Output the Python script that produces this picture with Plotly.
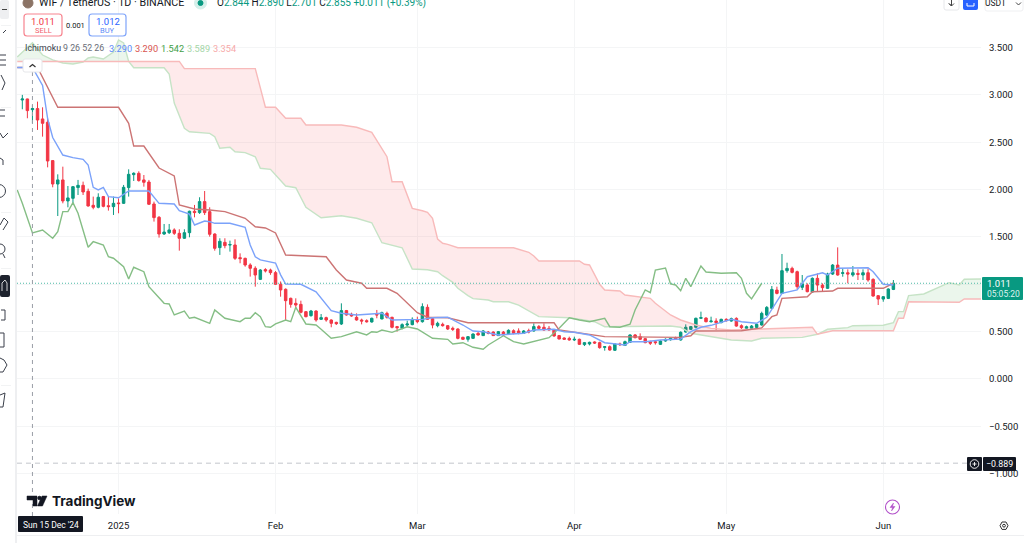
"""WIF / TetherUS daily candles with Ichimoku cloud, TradingView look."""

import pandas as pd
import plotly.graph_objects as go

W, H = 1024, 543
FONT = 'Roboto, Arial, sans-serif'

# Candles, one per day from START_DATE
START_DATE = '2024-12-13'
OPEN = [
    2.946, 2.957, 2.844, 2.855, 2.746, 2.711, 2.306, 2.059, 2.102, 1.880,
    1.908, 2.021, 2.045, 1.982, 1.834, 1.813, 1.926, 1.830, 1.820, 1.859,
    1.855, 2.021, 2.158, 2.172, 2.102, 2.080, 1.848, 1.707, 1.531, 1.545,
    1.574, 1.538, 1.486, 1.545, 1.771, 1.757, 1.873, 1.767, 1.531, 1.387,
    1.443, 1.415, 1.415, 1.281, 1.274, 1.204, 1.169, 1.052, 1.155, 1.151,
    1.123, 1.000, .947, .852, .799, .788, .711, .669, .718, .630,
    .648, .623, .598, .581, .722, .683, .651, .623, .616, .602,
    .683, .634, .693, .651, .553, .535, .570, .574, .623, .605,
    .757, .637, .563, .577, .563, .535, .528, .440, .419, .429,
    .482, .458, .496, .496, .458, .496, .475, .510, .507, .482,
    .510, .507, .553, .546, .535, .517, .458, .433, .429, .412,
    .419, .363, .370, .391, .384, .334, .341, .303, .370, .355,
    .387, .465, .447, .426, .394, .394, .366, .401, .415, .436,
    .412, .496, .524, .546, .641, .644, .605, .612, .595, .630,
    .612, .640, .563, .535, .535, .545, .570, .675, .746, .939,
    .904, 1.144, 1.168, 1.133, .968, .992, .918, 1.063, .992, .957,
    1.108, 1.203, 1.115, 1.122, 1.098, 1.115, 1.098, 1.122, 1.052, .880,
    .844, .851, .946,
]
HIGH = [
    3.000, 2.960, 2.890, 2.929, 2.869, 2.753, 2.310, 2.161, 2.242, 2.038,
    2.038, 2.102, 2.084, 2.010, 1.926, 1.961, 1.933, 1.926, 1.926, 1.908,
    2.049, 2.214, 2.183, 2.193, 2.154, 2.102, 1.873, 1.721, 1.637, 1.637,
    1.591, 1.581, 1.581, 1.778, 1.838, 1.919, 1.985, 1.813, 1.538, 1.486,
    1.486, 1.461, 1.475, 1.327, 1.281, 1.222, 1.190, 1.160, 1.170, 1.165,
    1.140, 1.030, .957, .859, .852, .827, .718, .729, .725, .686,
    .658, .630, .605, .799, .729, .700, .693, .637, .630, .648,
    .729, .711, .711, .658, .560, .588, .616, .651, .658, .799,
    .788, .644, .605, .595, .570, .553, .535, .447, .454, .482,
    .496, .517, .507, .503, .507, .507, .524, .524, .535, .517,
    .531, .588, .570, .588, .560, .524, .465, .440, .447, .447,
    .426, .391, .394, .398, .394, .348, .355, .377, .384, .405,
    .472, .475, .482, .433, .405, .405, .412, .429, .436, .447,
    .503, .577, .560, .648, .711, .651, .658, .641, .637, .641,
    .648, .651, .577, .563, .570, .587, .711, .770, .982, .975,
    1.320, 1.228, 1.186, 1.144, 1.098, 1.010, 1.073, 1.115, 1.010, 1.122,
    1.214, 1.390, 1.168, 1.158, 1.193, 1.158, 1.158, 1.168, 1.063, .887,
    .876, .957, 1.045,
]
LOW = [
    2.848, 2.753, 2.701, 2.630, 2.559, 2.235, 2.024, 1.721, 1.855, 1.813,
    1.838, 1.943, 1.943, 1.820, 1.792, 1.802, 1.813, 1.778, 1.732, 1.750,
    1.848, 1.926, 2.091, 2.084, 2.031, 1.838, 1.662, 1.493, 1.521, 1.531,
    1.521, 1.355, 1.479, 1.496, 1.707, 1.743, 1.732, 1.503, 1.355, 1.310,
    1.380, 1.345, 1.257, 1.222, 1.186, 1.081, .975, 1.045, 1.125, 1.100,
    .995, .869, .623, .753, .746, .693, .651, .658, .605, .623,
    .605, .546, .570, .570, .669, .658, .616, .577, .595, .595,
    .641, .630, .637, .535, .500, .524, .553, .567, .588, .595,
    .623, .535, .546, .553, .517, .507, .419, .412, .394, .422,
    .458, .454, .472, .454, .454, .454, .465, .472, .472, .475,
    .482, .500, .524, .510, .510, .447, .419, .412, .405, .401,
    .359, .348, .355, .370, .320, .299, .299, .296, .348, .348,
    .380, .429, .412, .377, .359, .363, .359, .394, .405, .412,
    .405, .489, .517, .535, .634, .598, .595, .517, .588, .605,
    .605, .552, .524, .524, .524, .531, .563, .665, .739, .894,
    .897, 1.122, 1.115, .946, .939, .915, .911, .922, .922, .950,
    1.098, 1.091, 1.080, 1.010, 1.080, 1.045, 1.045, 1.027, .869, .781,
    .816, .844, .939,
]
CLOSE = [
    2.957, 2.834, 2.855, 2.735, 2.700, 2.302, 2.059, 2.102, 1.880, 1.912,
    2.031, 2.045, 1.975, 1.827, 1.813, 1.919, 1.823, 1.820, 1.855, 1.852,
    2.024, 2.161, 2.172, 2.095, 2.077, 1.845, 1.704, 1.531, 1.552, 1.574,
    1.538, 1.486, 1.545, 1.771, 1.757, 1.873, 1.757, 1.528, 1.380, 1.454,
    1.408, 1.419, 1.274, 1.271, 1.204, 1.169, 1.098, 1.151, 1.141, 1.123,
    1.000, .940, .827, .788, .781, .704, .658, .718, .623, .648,
    .623, .588, .584, .722, .676, .665, .623, .612, .605, .641,
    .676, .700, .651, .546, .542, .574, .581, .630, .605, .764,
    .630, .570, .588, .563, .528, .524, .429, .419, .447, .475,
    .465, .507, .482, .458, .500, .465, .514, .482, .482, .507,
    .496, .553, .535, .517, .517, .454, .422, .419, .412, .419,
    .366, .384, .387, .380, .331, .341, .306, .370, .363, .394,
    .465, .436, .419, .384, .377, .384, .401, .419, .429, .419,
    .493, .546, .553, .641, .648, .605, .612, .595, .630, .616,
    .637, .559, .542, .552, .559, .577, .693, .756, .946, .904,
    1.144, 1.168, 1.126, .975, 1.003, .922, 1.063, .992, .964, 1.108,
    1.203, 1.098, 1.122, 1.108, 1.122, 1.105, 1.122, 1.045, .876, .844,
    .869, .950, 1.011,
]

# Ichimoku lines: day offset from START_DATE and price at each bend
TENKAN_DAY = [
    -1, 2, 4, 5, 6, 8, 10, 12, 13, 14, 15, 16, 17, 19, 21, 25, 27, 30, 31, 33, 34, 36, 37, 38, 41, 44,
    45, 46, 47, 50, 51, 52, 55, 58, 61, 63, 66, 69, 71, 73, 77, 79, 81, 84, 87, 89, 91, 94, 99, 101,
    105, 107, 109, 112, 115, 119, 120, 123, 126, 130, 132, 134, 136, 139, 140, 142, 145, 147, 150,
    153, 155, 158, 159, 161, 167, 168, 170, 172,
]
TENKAN = [
    3.29, 3.29, 3.10, 2.75, 2.55, 2.365, 2.337, 2.320, 2.260, 2.024, 1.996, 2.024, 1.925, 1.914, 1.985,
    1.985, 1.855, 1.848, 1.777, 1.742, 1.626, 1.668, 1.661, 1.644, 1.644, 1.602,
    1.415, 1.291, 1.257, 1.225, 1.10, 1.003, 1.000, .92, .721, .694, .676, .683, .694, .623, .623, .630,
    .647, .652, .570, .507, .499, .465, .483, .517,
    .525, .499, .493, .465, .383, .359, .394, .394, .412, .422, .50, .546, .567, .616, .630, .605, .588,
    .652, .905, .940, 1.080, 1.122, 1.098, 1.169, 1.175, 1.133, 1.000, .993,
]
KIJUN_DAY = [
    -1, 3, 7, 19, 21, 22, 24, 27, 30, 31, 34, 37, 40, 44, 46, 48, 50, 52, 60, 62, 64, 67, 68, 72, 74,
    78, 80, 84, 88, 105, 106, 109, 113, 115, 130, 132, 133, 140, 142, 146, 148, 149, 150, 155, 156,
    160, 161, 170, 172,
]
KIJUN = [
    3.29, 3.29, 2.869, 2.869, 2.700, 2.460, 2.460, 2.228, 2.144, 1.837, 1.795, 1.785, 1.767, 1.697, 1.608,
    1.595, 1.542, 1.309, 1.291, 1.151, 1.045, 1.011, .958, .958, .905,
    .700, .652, .647, .594, .594, .517, .493, .465, .447, .440, .457, .507, .507, .510, .539, .658, .676,
    .852, .869, .922, .929, .958, .958, 1.011,
]
CHIKOU_DAY = [
    -1, 0, 2, 4, 6, 7, 8, 9, 10, 11, 13, 14, 16, 17, 18, 20, 21, 22, 24, 25, 28, 29, 30, 32, 33, 34, 37,
    38, 40, 43, 44, 45, 46, 47, 48, 49, 50, 52, 53, 54, 56, 58, 59, 61, 63, 66, 68, 69, 70, 71, 73, 76,
    78, 81, 84, 85, 87, 89, 91, 92, 95, 97, 99, 102, 104, 106, 108, 110, 112, 115, 116, 118, 120, 121,
    123, 124, 125, 127, 128, 129, 130, 131, 132, 134, 135, 138, 141, 142, 143, 144, 146,
]
CHIKOU = [
    1.996, 1.855, 1.542, 1.573, 1.486, 1.555, 1.767, 1.767, 1.862, 1.750, 1.391, 1.450, 1.415, 1.291,
    1.275, 1.186, 1.056, 1.180, 1.133, .975, .799, .792, .676, .718, .641, .652, .588,
    .729, .641, .605, .641, .641, .700, .658, .552, .546, .581, .623, .605, .757, .581, .570, .525, .430,
    .447, .499, .465, .499, .493, .517, .493, .552,
    .528, .430, .419, .370, .383, .335, .314, .359, .457, .394, .370, .412, .436, .535, .647, .623, .605,
    .641, .552, .546, .578, .729,
    .940, .911, 1.151, 1.172, 1.003, .993, .932, 1.063, .975, 1.193, 1.130, 1.116, 1.122, 1.063, .905,
    .845, 1.011,
]
SPAN_A_DAY = [
    -1, 1, 2, 4, 6, 8, 10, 12, 13, 14, 16, 18, 19, 20, 21, 22, 28, 29, 30, 32, 33, 37, 38, 39, 41, 42, 44,
    46, 47, 49, 52, 54, 56, 59, 63, 66, 69, 71, 75, 77, 80, 82, 83, 85, 86, 88, 89, 92, 93, 96, 98,
    102, 108, 113, 115, 128, 130, 132, 136, 140, 144, 146, 154, 157, 159, 161, 163, 164, 170, 172,
    173, 174, 175, 178, 180, 183, 185, 186, 190,
]
SPAN_A = [
    3.400, 3.506, 3.55, 3.421, 3.369, 3.337, 3.326, 3.347, 3.390, 3.400, 3.379, 3.453, 3.580, 3.548, 3.353,
    3.287, 3.287, 3.221, 2.914, 2.647, 2.611, 2.594, 2.559, 2.436, 2.447, 2.400, 2.390,
    2.347, 2.225, 2.214, 2.038, 2.020, 1.813, 1.703, 1.724, 1.697, 1.650, 1.439, 1.386, 1.162, 1.154,
    1.133, 1.091, 1.021, .958, .880, .848, .834, .816, .816, .781,
    .658, .647, .605, .552, .560, .546, .483, .447, .412, .401, .430, .440, .472, .525, .535, .542, .563,
    .567, .594,
    .711, .711, .880, .898, .947, 1.017, .993, 1.053, 1.056,
]
SPAN_B_DAY = [
    -1, 21, 31, 32, 46, 48, 50, 52, 55, 56, 63, 66, 69, 72, 73, 75, 76, 77, 79, 80, 81, 82, 83, 84, 86,
    97, 100, 101, 102, 110, 111, 112, 114, 115, 118, 119, 124, 125, 128, 130, 133, 136, 140, 156, 157,
    160, 172, 173, 174, 175, 185, 186, 190,
]
SPAN_B = [
    3.353, 3.353, 3.354, 3.277, 3.277, 2.869, 2.869, 2.753, 2.753, 2.682, 2.682, 2.658, 2.605, 2.347,
    2.083, 2.083, 1.943, 1.802, 1.777, 1.760, 1.697, 1.478, 1.433, 1.422, 1.386,
    1.386, 1.338, 1.299, 1.246, 1.246, 1.211, 1.204, 1.000, .940, .929, .887, .852, .799, .676, .623,
    .570, .535, .517, .546, .472,
    .510, .510, .641, .641, .816, .810, .845, .845,
]
# Days where span A and span B cross
CLOUD_CROSS = [21, 157]

Y_TICKS = [3.5, 3.0, 2.5, 2.0, 1.5, 1.0, 0.5, 0.0, -0.5, -1.0]
Y_LABELS = ['3.500', '3.000', '2.500', '2.000', '1.500', '1.000', '0.500', '0.000', '\u22120.500', '\u22121.000']
X_TICKS = ['2025-01-01', '2025-02-01', '2025-03-01', '2025-04-01', '2025-05-01', '2025-06-01']
X_LABELS = ['2025', 'Feb', 'Mar', 'Apr', 'May', 'Jun']

LAST_PRICE = 1.011
MARK_PRICE = -0.889
CROSS_DATE = '2024-12-15'

COLORS = {
    'up': '#089981',
    'down': '#F23645',
    'tenkan': '#7BA2FA',
    'kijun': '#CC7474',
    'chikou': '#85BE85',
    'span_a': '#C6E3C6',
    'span_b': '#F8BABA',
    'fill_a': 'rgba(76,175,80,0.11)',
    'fill_b': 'rgba(242,54,69,0.105)',
    'grid': '#F4F5F6',
    'text': '#131722',
    'dark': '#131722',
}


def dates(days):
    return pd.Timestamp(START_DATE) + pd.to_timedelta(days, unit='D')


def cloud(lo, hi, color):
    """Closed polygon between the two spans for days lo..hi."""
    a = [(d, v) for d, v in zip(SPAN_A_DAY, SPAN_A) if lo <= d <= hi]
    b = [(d, v) for d, v in zip(SPAN_B_DAY, SPAN_B) if lo <= d <= hi]
    days = [d for d, _ in a] + [d for d, _ in b][::-1]
    vals = [v for _, v in a] + [v for _, v in b][::-1]
    return go.Scatter(x=dates(days), y=vals, mode='lines', fill='toself', fillcolor=color,
                      line=dict(width=0), hoverinfo='skip', showlegend=False)


def line(days, vals, color, width=1.4):
    return go.Scatter(x=dates(days), y=vals, mode='lines', line=dict(color=color, width=width),
                      hoverinfo='skip', showlegend=False)


def px(x):
    return x / W


def py(y):
    return 1 - y / H


def text(x, y, s, size=9.5, color='#131722', anchor='left', family=FONT, bg=None):
    return dict(x=px(x), y=py(y), xref='paper', yref='paper', text=s, showarrow=False, xanchor=anchor,
                yanchor='middle', font=dict(size=size, color=color, family=family), bgcolor=bg,
                borderpad=0, borderwidth=0)


def box(x0, y0, x1, y1, fill='rgba(0,0,0,0)', border=None, width=1, r=0):
    """Rounded rectangle in page pixels."""
    path = (f'M{px(x0 + r)},{py(y0)} L{px(x1 - r)},{py(y0)} Q{px(x1)},{py(y0)} {px(x1)},{py(y0 + r)} '
            f'L{px(x1)},{py(y1 - r)} Q{px(x1)},{py(y1)} {px(x1 - r)},{py(y1)} '
            f'L{px(x0 + r)},{py(y1)} Q{px(x0)},{py(y1)} {px(x0)},{py(y1 - r)} '
            f'L{px(x0)},{py(y0 + r)} Q{px(x0)},{py(y0)} {px(x0 + r)},{py(y0)} Z')
    return dict(type='path', xref='paper', yref='paper', path=path, fillcolor=fill,
                line=dict(color=border if border else 'rgba(0,0,0,0)', width=width if border else 0))


def stroke(points, color='#3a3f4a', width=1.0, fill=None):
    path = 'M' + ' L'.join(f'{px(x)},{py(y)}' for x, y in points)
    if fill:
        path += ' Z'
    return dict(type='path', xref='paper', yref='paper', path=path, fillcolor=fill,
                line=dict(color=color, width=width))


def circle(cx, cy, r, color, fill='rgba(0,0,0,0)', width=1.0):
    return dict(type='circle', xref='paper', yref='paper', x0=px(cx - r), x1=px(cx + r),
                y0=py(cy + r), y1=py(cy - r), line=dict(color=color, width=width), fillcolor=fill)


def chrome_shapes():
    shapes = [
        # toolbar separator and bottom border
        box(15, 0, 17, 543, fill='#EEEFF1'),
        box(17, 535, 1024, 536, fill='#EEEFF1'),
        # crosshair
        dict(type='line', xref='x', yref='paper', x0=CROSS_DATE, x1=CROSS_DATE, y0=py(516), y1=py(72),
             line=dict(color='#9A9EA6', width=1, dash='4px,4px')),
        # sell / buy boxes
        box(24, 14, 62, 36, fill='white', border='#F7848F', width=1.2, r=3),
        box(89, 14, 126, 36, fill='white', border='#7FA4FA', width=1.2, r=3),
        # collapse button
        box(23, 59, 42, 72, fill='white', border='#E6E7EA', r=2),
        stroke([(29.5, 67), (32.5, 64.5), (35.5, 67)], color='#333', width=1.2),
        # header dots
        circle(28, 3, 5, '#8c7466', fill='#8c7466'),
        circle(200.5, 3, 6, '#D5EFEA', fill='#D5EFEA'),
        circle(200.5, 3, 2.5, '#089981', fill='#089981'),
        # top right buttons
        box(944, -4, 959, 10, fill='white', border='#E6E7EA', r=2),
        stroke([(951.5, 0), (951.5, 6), (949, 3.5), (951.5, 6), (954, 3.5)], color='#444', width=1),
        box(963, -4, 978, 10, fill='#2962FF', r=2),
        stroke([(967, 3), (967, 6), (974, 6), (974, 3)], color='white', width=1),
        box(985, -4, 1023, 11, fill='white', border='#EFF0F2', r=2),
        stroke([(1016, 2.5), (1018.5, 5), (1021, 2.5)], color='#444', width=1),
        # last price tag
        box(982, 277, 1023, 300, fill=COLORS['up'], r=1),
        # marked price tag and plus button
        box(983, 457, 1016, 471, fill=COLORS['dark'], r=1),
        box(967, 457, 982, 471, fill=COLORS['dark'], r=1),
        circle(974.5, 464, 4.3, 'white', width=0.9),
        stroke([(972.5, 464), (976.5, 464)], color='white', width=0.9),
        stroke([(974.5, 462), (974.5, 466)], color='white', width=0.9),
        # date tag
        box(18, 516, 83, 532, fill=COLORS['dark'], r=1),
        # TradingView logo
        stroke([(27, 496), (37, 496), (37, 506), (33, 506), (33, 500), (27, 500)], color='#131722', width=0.5,
               fill='#131722'),
        circle(39.5, 498, 1.7, '#131722', fill='#131722'),
        stroke([(42, 496), (47, 496), (42.5, 506), (37.5, 506)], color='#131722', width=0.5, fill='#131722'),
        # lightning button
        circle(892.5, 507, 7, '#B14FC9', width=1.1),
        stroke([(893.5, 503), (890, 507.5), (892.5, 507.5), (891.5, 511), (895, 506.5), (892.5, 506.5)],
               color='#B14FC9', width=0.5, fill='#B14FC9'),
        # settings icon
        stroke([(1000, 525.7), (1002, 522), (1006, 522), (1008, 525.7), (1006, 529.4), (1002, 529.4)],
               color='#333', width=1, fill='white'),
        circle(1004, 525.7, 1.4, '#333', width=1),
        # clipped toolbar icons
        box(0, 0, 9, 19, fill='#EEEFF1', r=2),
        stroke([(2, 9.5), (7, 9.5)], color='#444', width=1),
        stroke([(3, 33), (6, 30)], width=1),
        stroke([(0, 55), (6, 55)], width=1),
        stroke([(0, 60), (6, 60)], width=1),
        stroke([(0, 65), (6, 65)], width=1),
        stroke([(1, 75), (5, 83), (2, 90)], width=1),
        stroke([(0, 110), (5, 110)], width=1),
        stroke([(0, 116), (5, 116)], width=1),
        stroke([(0, 133), (3, 138), (8, 133)], width=1),
        stroke([(0, 158), (3, 160), (3, 165)], width=1),
        circle(-1, 191, 6.5, '#3a3f4a'),
        stroke([(0, 225), (4, 218), (8, 222), (3, 230)], width=1),
        circle(0, 249, 5, '#3a3f4a'),
        stroke([(3, 254), (5, 258)], width=1),
        box(0, 275, 10, 297, fill='#1E222D', r=2),
        stroke([(2, 291), (2, 283), (5, 280), (7, 283), (7, 291)], color='white', width=0.8),
        stroke([(1, 310), (5, 310), (5, 320), (1, 320)], width=1),
        stroke([(0, 333), (4, 333), (4, 347), (0, 347)], width=1),
        stroke([(0, 358), (4, 360), (7, 365), (3, 372), (0, 372)], width=1),
        stroke([(0, 395), (5, 393), (3, 407), (0, 407)], width=1),
    ]
    for y in (25, 107, 212, 268, 385):
        shapes.append(box(1, y, 11, y + 0.7, fill='#EEEFF1'))
    return shapes


def chrome_annotations():
    head = 'WIF / TetherUS \u00b7 1D \u00b7 BINANCE'
    up = COLORS['up']
    ohlc = (f'O<span style="color:{up}">2.844</span> H<span style="color:{up}">2.890</span> '
            f'L<span style="color:{up}">2.701</span> C<span style="color:{up}">2.855</span> '
            f'<span style="color:{up}">+0.011 (+0.39%)</span>')
    return [
        text(39, 3, head, size=10.7),
        text(217, 3, ohlc, size=10),
        text(43, 21, '1.011', size=9.5, color='#F23645', anchor='center'),
        text(43, 31, 'SELL', size=7.5, color='#F2606C', anchor='center'),
        text(75, 26, '0.001', size=7.5, anchor='center'),
        text(107.5, 21, '1.012', size=9.5, color='#2962FF', anchor='center'),
        text(107.5, 31, 'BUY', size=7.5, color='#5B8AF8', anchor='center'),
        text(25, 48, 'Ichimoku', size=8.8, color='#3a3f4a'),
        text(63, 48, '9 26 52 26', size=8.8, color='#6a6e78'),
        text(109, 48, '3.290', size=9.2, color='#5B8AF8'),
        text(135, 48, '3.290', size=9.2, color='#D9534F'),
        text(161, 48, '1.542', size=9.2, color='#43A047'),
        text(187, 48, '3.589', size=9.2, color='#A5D6A7'),
        text(213, 48, '3.354', size=9.2, color='#F7A9A9'),
        text(995, 3, 'USDT', size=8.5, anchor='center'),
        text(987, 283.5, '1.011', size=9.5, color='white'),
        text(987, 294, '05:05:20', size=8.5, color='#DFF3EF'),
        text(986, 464, '\u22120.889', size=8.8, color='white'),
        text(50.5, 524.5, "Sun 15 Dec '24", size=8.5, color='white', anchor='center'),
        text(52, 501, '<b>TradingView</b>', size=13.5, family='Inter, Roboto, sans-serif'),
    ]


def create_chart():
    x = dates(list(range(len(OPEN))))

    fig = go.Figure()
    fig.add_trace(cloud(-1, CLOUD_CROSS[0], COLORS['fill_a']))
    fig.add_trace(cloud(CLOUD_CROSS[0], CLOUD_CROSS[1], COLORS['fill_b']))
    fig.add_trace(cloud(CLOUD_CROSS[1], 190, COLORS['fill_a']))
    fig.add_trace(line(SPAN_A_DAY, SPAN_A, COLORS['span_a']))
    fig.add_trace(line(SPAN_B_DAY, SPAN_B, COLORS['span_b']))
    fig.add_trace(line(CHIKOU_DAY, CHIKOU, COLORS['chikou']))
    fig.add_trace(line(KIJUN_DAY, KIJUN, COLORS['kijun']))
    fig.add_trace(line(TENKAN_DAY, TENKAN, COLORS['tenkan']))
    fig.add_trace(go.Candlestick(
        x=x, open=OPEN, high=HIGH, low=LOW, close=CLOSE,
        increasing=dict(line=dict(color=COLORS['up'], width=1), fillcolor=COLORS['up']),
        decreasing=dict(line=dict(color=COLORS['down'], width=1), fillcolor=COLORS['down']),
        whiskerwidth=0, showlegend=False,
    ))

    fig.add_hline(y=LAST_PRICE, line=dict(color='#4DBBA6', width=1, dash='1px,2px'))
    fig.add_hline(y=MARK_PRICE, line=dict(color='#C3C6CC', width=1, dash='5px,4px'))

    fig.update_layout(
        width=W, height=H,
        margin=dict(l=0, r=0, t=0, b=0),
        paper_bgcolor='white',
        plot_bgcolor='white',
        font=dict(family=FONT, size=9.5, color=COLORS['text']),
        showlegend=False,
        xaxis=dict(
            type='date',
            domain=[px(17), px(981)],
            range=[dates(-1.05), dates(189.3)],
            tickvals=X_TICKS, ticktext=X_LABELS,
            tickfont=dict(size=9.5),
            ticklabelstandoff=4,
            showgrid=True, gridcolor=COLORS['grid'], gridwidth=1,
            zeroline=False, showline=False, ticks='',
            rangeslider=dict(visible=False),
        ),
        yaxis=dict(
            domain=[py(514), 1],
            range=[-1.4256, 4.002],
            side='right',
            tickvals=Y_TICKS, ticktext=Y_LABELS,
            tickfont=dict(size=9.5),
            ticks='', ticklabelstandoff=7,
            showgrid=True, gridcolor=COLORS['grid'], gridwidth=1,
            zeroline=False, showline=False,
        ),
        shapes=list(fig.layout.shapes) + chrome_shapes(),
        annotations=chrome_annotations(),
    )
    return fig


def main():
    fig = create_chart()
    fig.write_html("out.html", config={'displayModeBar': False},
                   post_script="document.body.style.margin='0';")


if __name__ == '__main__':
    main()
